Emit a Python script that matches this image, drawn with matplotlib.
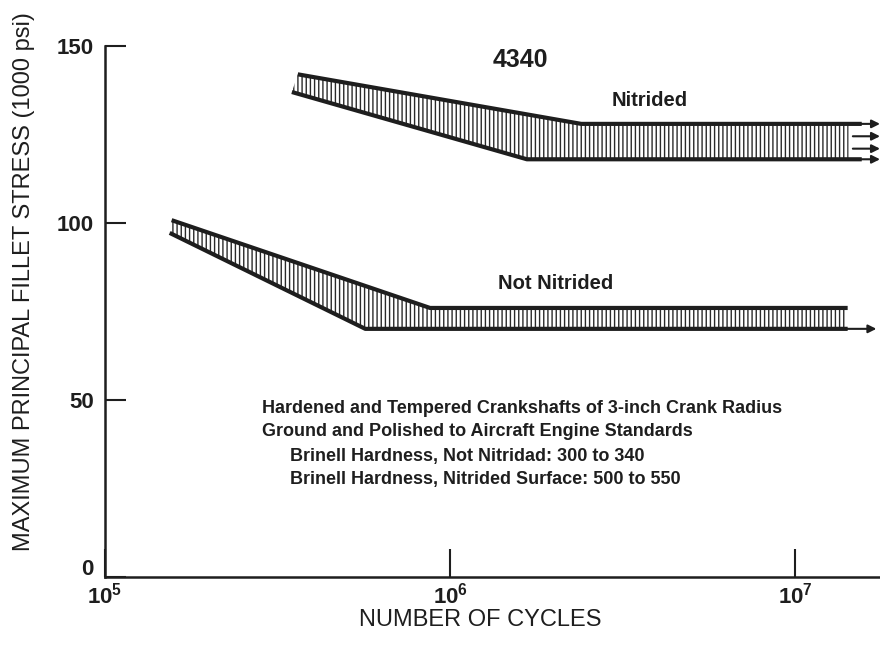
import numpy as np
import matplotlib.pyplot as plt
import matplotlib.transforms as mtransforms

plt.rcParams['font.family'] = ['Liberation Sans', 'DejaVu Sans']
plt.rcParams['hatch.linewidth'] = 1.0

# Band edges (cycles, 1000 psi)
nit_upper_x = [3.62e5, 2.40e6, 1.56e7]
nit_upper_y = [142.0, 128.0, 128.0]
nit_lower_x = [3.48e5, 1.67e6, 1.56e7]
nit_lower_y = [137.0, 118.0, 118.0]
nit_arrow_y = [128.0, 124.5, 121.0, 118.0]

not_upper_x = [1.56e5, 8.75e5, 1.42e7]
not_upper_y = [100.8, 76.0, 76.0]
not_lower_x = [1.54e5, 5.68e5, 1.42e7]
not_lower_y = [97.2, 70.1, 70.1]
not_arrow_y = [70.1]

xmax = 10 ** 7.246
notes = ["Hardened and Tempered Crankshafts of 3-inch Crank Radius",
         "Ground and Polished to Aircraft Engine Standards",
         "Brinell Hardness, Not Nitridad: 300 to 340",
         "Brinell Hardness, Nitrided Surface: 500 to 550"]
note_x = [2.85e5, 2.85e5, 3.43e5, 3.43e5]
note_y = [47.5, 41.0, 34.0, 27.5]

fig = plt.figure(figsize=(8.8, 6.47), dpi=100)
ax = fig.add_axes([105 / 880, 70 / 647, 775 / 880, 531 / 647])
ax.set_xscale('log')
ax.set_xlim(1e5, xmax)
ax.set_ylim(0, 150)

ink = '#1e1e1e'


def band(ux, uy, lx, ly, hatch_end):
    # hatched polygon between the two edges, then the thick edges
    ux2 = list(ux[:-1]) + [hatch_end]
    lx2 = list(lx[:-1]) + [hatch_end]
    px = ux2 + lx2[::-1]
    py = list(uy) + list(ly)[::-1]
    ax.fill(px, py, facecolor='none', edgecolor='#2a2a2a', linewidth=0, hatch='||||')
    ax.plot(ux, uy, color=ink, lw=3, solid_capstyle='butt')
    ax.plot(lx, ly, color=ink, lw=3, solid_capstyle='butt')


band(nit_upper_x, nit_upper_y, nit_lower_x, nit_lower_y, 1.43e7)
band(not_upper_x, not_upper_y, not_lower_x, not_lower_y, 1.40e7)

for y in nit_arrow_y:
    ax.annotate('', xy=(xmax, y), xytext=(1.47e7, y), annotation_clip=False,
                arrowprops=dict(arrowstyle='-|>', color=ink, lw=1.5,
                                mutation_scale=12, shrinkA=0, shrinkB=0))
for y in not_arrow_y:
    ax.annotate('', xy=(1.72e7, y), xytext=(1.40e7, y), annotation_clip=False,
                arrowprops=dict(arrowstyle='-|>', color=ink, lw=1.5,
                                mutation_scale=12, shrinkA=0, shrinkB=0))

ax.text(1.60e6, 146.0, '4340', ha='center', va='center', fontsize=18, fontweight='bold', color=ink)
ax.text(3.80e6, 134.7, 'Nitrided', ha='center', va='center', fontsize=14.5, fontweight='bold', color=ink)
ax.text(2.02e6, 82.8, 'Not Nitrided', ha='center', va='center', fontsize=14.5, fontweight='bold', color=ink)

for txt, x, y in zip(notes, note_x, note_y):
    ax.text(x, y, txt, ha='left', va='center', fontsize=13, fontweight='bold', color=ink)

for s in ['top', 'right']:
    ax.spines[s].set_visible(False)
for s in ['left', 'bottom']:
    ax.spines[s].set_linewidth(1.8)
    ax.spines[s].set_color(ink)

ax.set_yticks([0, 50, 100, 150])
ax.set_yticklabels(['0', '50', '100', '150'])
ax.set_xticks([1e5, 1e6, 1e7])
ax.set_xticklabels([r'$\mathregular{10^5}$', r'$\mathregular{10^6}$', r'$\mathregular{10^7}$'])
ax.minorticks_off()
ax.tick_params(axis='y', direction='in', length=15, width=1.5, pad=8, labelsize=16, colors=ink)
ax.tick_params(axis='x', direction='in', length=20, width=1.5, pad=4, labelsize=16, colors=ink)
for lab in ax.get_xticklabels() + ax.get_yticklabels():
    lab.set_fontweight('bold')

# the "0" sits a little above the x axis, as in the original
zero = ax.get_yticklabels()[0]
zero.set_transform(zero.get_transform() + mtransforms.ScaledTranslation(0, 7 / 72, fig.dpi_scale_trans))

ax.set_xlabel('NUMBER OF CYCLES', fontsize=17, color=ink)
ax.set_ylabel('MAXIMUM PRINCIPAL FILLET STRESS (1000 psi)', fontsize=17, color=ink)
ax.xaxis.set_label_coords((480 - 105) / 775, -(620 - 577) / 531, transform=ax.transAxes)
ax.yaxis.set_label_coords(-(105 - 24) / 775, (577 - 282) / 531, transform=ax.transAxes)
ax.xaxis.label.set_va('center')
ax.yaxis.label.set_va('center')

fig.savefig('out.png', dpi=100)
